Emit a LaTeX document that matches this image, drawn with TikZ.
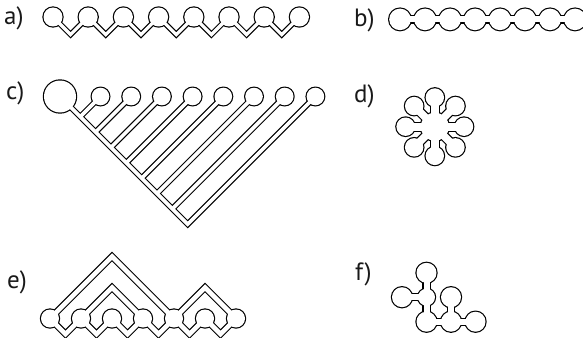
\documentclass[tikz,border=0pt]{standalone}
\usepackage{fontspec}
\setmainfont{PT Sans}
\usetikzlibrary{calc}
\begin{document}
\begin{tikzpicture}[x=1pt,y=-1pt,
  lbl/.style={anchor=base west, inner sep=0pt, font=\fontsize{25}{25}\selectfont, text=black!90},
  tube/.style={line join=miter, line cap=butt}]
\path[use as bounding box] (0,0) rectangle (583,337);

% every bead shape is drawn twice: a black pass (grown by the outline width)
% and a white pass on top, so only the outline of the union stays visible
\def\ow{1.2}

% a) open chain, beads joined by V-shaped links below
\foreach \k in {0,...,7}{\coordinate (a\k) at ({53+35.2*\k},17);}
\newcommand\shapeA[3]{%
  \foreach \k in {0,...,7}{\fill[#1] (a\k) circle[radius={9.5pt+#2pt}];}
  \foreach \k [evaluate=\k as \n using int(\k+1)] in {0,...,6}{%
    \draw[#1, tube, line width=#3] (a\k) -- ++(17.6,17.6) -- (a\n);}}
\shapeA{black}{\ow}{5.6pt}
\shapeA{white}{0}{3.2pt}

% b) beads strung on a straight rod
\foreach \k in {0,...,7}{\coordinate (b\k) at ({400+25*\k},19.4);}
\newcommand\shapeB[3]{%
  \foreach \k in {0,...,7}{\fill[#1] (b\k) circle[radius={10.8pt+#2pt}];}
  \draw[#1, tube, line width=#3] (b0) -- (b7);}
\shapeB{black}{\ow}{8.4pt}
\shapeB{white}{0}{6pt}

% c) comb: large root bead, backbone and eight side beads
\coordinate (c0) at (60,96.5);
\foreach \k in {1,...,8}{\coordinate (c\k) at ({100.5+30.7*(\k-1)},96.5);}
\newcommand\shapeC[3]{%
  \fill[#1] (c0) circle[radius={16pt+#2pt}];
  \foreach \k in {1,...,8}{\fill[#1] (c\k) circle[radius={8.8pt+#2pt}];}
  \foreach \k in {1,...,7}{%
    \draw[#1, tube, line width=#3] (c\k) -- ($(c0)!0.5!(c\k)+(0,{0.5*(100.5+30.7*(\k-1)-60)})$);}
  \draw[#1, tube, line width=#3] (c0) -- ($(c0)!0.5!(c8)+(0,{0.5*(100.5+30.7*7-60)})$) -- (c8);}
\shapeC{black}{\ow}{6pt}
\shapeC{white}{0}{3.6pt}

% d) ring of eight beads around a hub
\coordinate (d0) at (434.8,126.7);
\foreach \k in {1,...,8}{\coordinate (d\k) at ($(d0)+({90-45*\k}:29.2)$);}
\newcommand\shapeD[3]{%
  \fill[#1] (d0) circle[radius={14pt+#2pt}];
  \foreach \k in {1,...,8}{%
    \fill[#1] (d\k) circle[radius={9.2pt+#2pt}];
    \draw[#1, tube, line width=#3] (d0) -- (d\k);}}
\shapeD{black}{\ow}{10pt}
\shapeD{white}{0}{7.6pt}

% e) chain with nested arches
\foreach \k in {1,...,7}{\coordinate (e\k) at ({50+31*(\k-1)},318.5);}
\newcommand\shapeE[3]{%
  \foreach \k in {1,...,7}{\fill[#1] (e\k) circle[radius={9pt+#2pt}];}
  \foreach \k [evaluate=\k as \n using int(\k+1)] in {1,...,6}{%
    \draw[#1, tube, line width=#3] (e\k) -- ++(15.5,15.5) -- (e\n);}
  \draw[#1, tube, line width=#3] (e1) -- ++(62,-62) -- (e5);
  \draw[#1, tube, line width=#3] (e2) -- ++(31,-31) -- (e4);
  \draw[#1, tube, line width=#3] (e5) -- ++(31,-31) -- (e7);}
\shapeE{black}{\ow}{7pt}
\shapeE{white}{0}{4.6pt}

% f) beads on a square lattice
\coordinate (fT) at (426.5,272.8);
\coordinate (fL) at (402,297.2);
\coordinate (fC) at (426.5,297.2);
\coordinate (fR) at (451,297.2);
\coordinate (f1) at (426.5,321.7);
\coordinate (f2) at (451,321.7);
\coordinate (f3) at (475.5,321.7);
\newcommand\shapeF[3]{%
  \foreach \p in {fT,fL,fR,f1,f2,f3}{\fill[#1] (\p) circle[radius={10pt+#2pt}];}
  \fill[#1] (fC) circle[radius={8.5pt+#2pt}];
  \draw[#1, tube, line width=#3] (fT) -- (fC) -- (f1) -- (f2) -- (f3);
  \draw[#1, tube, line width=#3] (fL) -- (fC);
  \draw[#1, tube, line width=#3] (fR) -- (f2);}
\shapeF{black}{\ow}{8.4pt}
\shapeF{white}{0}{6pt}

% panel labels
\node[lbl] (la) at (4,25) {a)};
\node[lbl] (lb) at (354,27) {b)};
\node[lbl] (lc) at (6,99) {c)};
\node[lbl] (ld) at (354,102) {d)};
\node[lbl] (le) at (7,288) {e)};
\node[lbl] (lf) at (355,280) {f)};
\end{tikzpicture}
\end{document}
